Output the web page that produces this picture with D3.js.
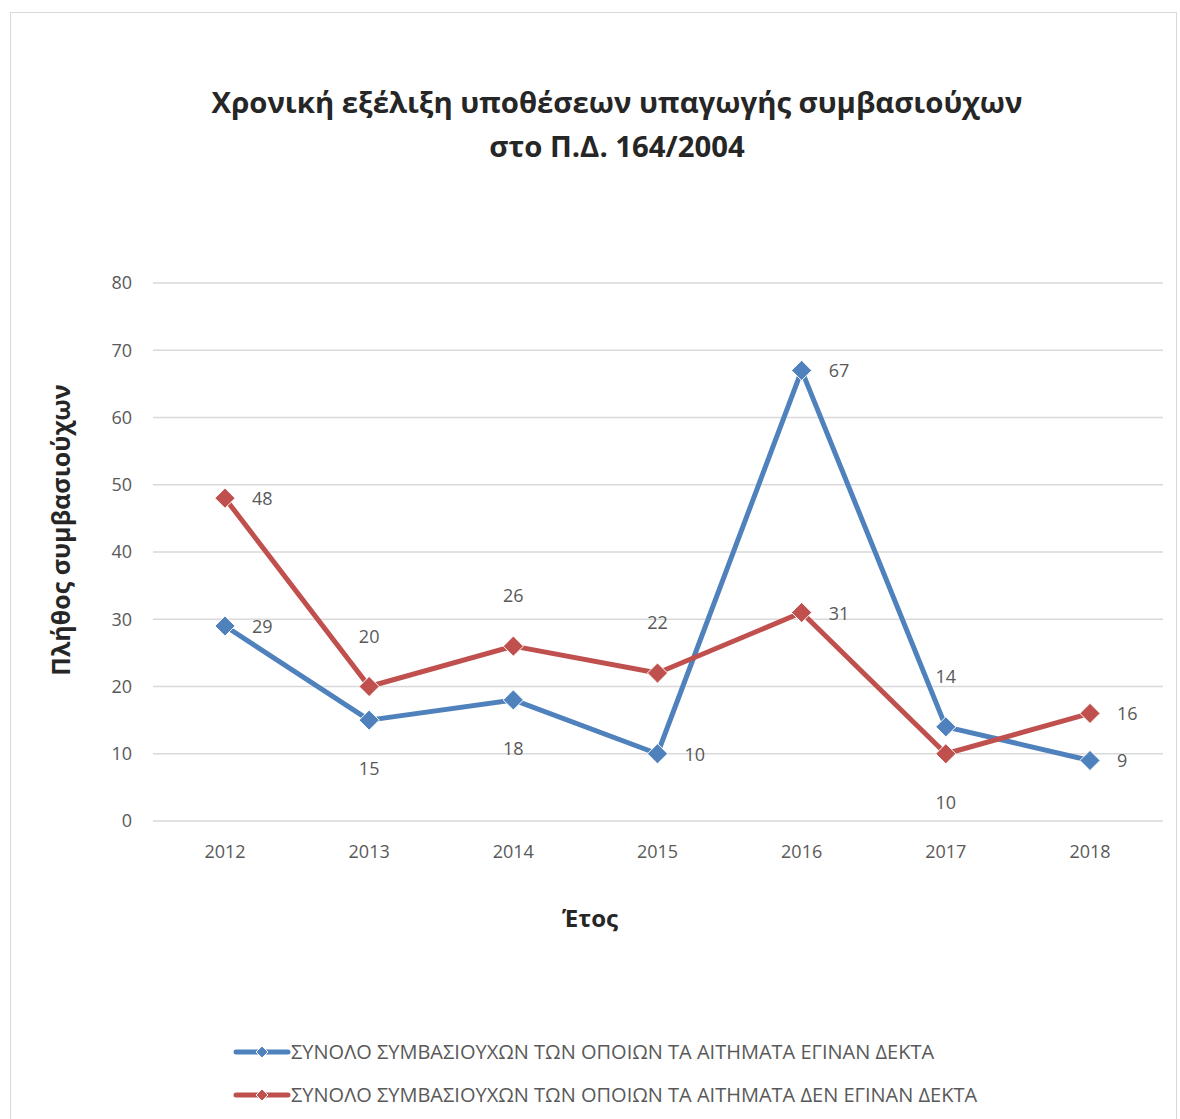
<!DOCTYPE html>
<html>
  <head>
    <meta charset="utf-8">
    <title>Χρονική εξέλιξη</title>
    <script src="https://d3js.org/d3.v7.min.js"></script>
    <style>
      body { margin: 0; background: #fff; }
      text { font-family: "Open Sans", "Noto Sans", sans-serif; }
    </style>
  </head>
  <body>
    <script>
      var years = ["2012", "2013", "2014", "2015", "2016", "2017", "2018"];
      var accepted = [29, 15, 18, 10, 67, 14, 9];
      var rejected = [48, 20, 26, 22, 31, 10, 16];
      var yTicks = [0, 10, 20, 30, 40, 50, 60, 70, 80];
      var seriesNames = [
        "ΣΥΝΟΛΟ ΣΥΜΒΑΣΙΟΥΧΩΝ ΤΩΝ ΟΠΟΙΩΝ ΤΑ ΑΙΤΗΜΑΤΑ ΕΓΙΝΑΝ ΔΕΚΤΑ",
        "ΣΥΝΟΛΟ ΣΥΜΒΑΣΙΟΥΧΩΝ ΤΩΝ ΟΠΟΙΩΝ ΤΑ ΑΙΤΗΜΑΤΑ ΔΕΝ ΕΓΙΝΑΝ ΔΕΚΤΑ"
      ];
      // label placement per point: r = right, a = above, b = below
      var acceptedPos = ["r", "b", "b", "r", "r", "a", "r"];
      var rejectedPos = ["r", "a", "a", "a", "r", "b", "r"];

      var width = 1180, height = 1119;
      var colors = ["#4f81bd", "#c0504d"];

      var svg = d3.select("body").append("svg")
        .attr("width", width)
        .attr("height", height);

      svg.append("rect")
        .attr("x", 10.5).attr("y", 12.5)
        .attr("width", 1166).attr("height", 1120)
        .attr("fill", "#fff")
        .attr("stroke", "#d9d9d9");

      var x = d3.scalePoint().domain(years).range([225, 1090]);
      var y = d3.scaleLinear().domain([0, 80]).range([821, 283]);

      // title
      var title = svg.append("text")
        .attr("text-anchor", "middle")
        .attr("font-size", 29.3)
        .attr("font-weight", "bold")
        .attr("fill", "#262626");
      title.append("tspan").attr("x", 617).attr("y", 113)
        .text("Χρονική εξέλιξη υποθέσεων υπαγωγής συμβασιούχων");
      title.append("tspan").attr("x", 617).attr("y", 157)
        .text("στο Π.Δ. 164/2004");

      // gridlines + y labels
      svg.selectAll(".grid")
        .data(yTicks)
        .enter().append("line")
          .attr("x1", 153).attr("x2", 1163)
          .attr("y1", function(d) { return y(d); })
          .attr("y2", function(d) { return y(d); })
          .attr("stroke", "#d9d9d9")
          .attr("stroke-width", 1.5);

      svg.selectAll(".ylab")
        .data(yTicks)
        .enter().append("text")
          .attr("x", 132)
          .attr("y", function(d) { return y(d); })
          .attr("dy", "0.35em")
          .attr("text-anchor", "end")
          .attr("font-size", 18)
          .attr("fill", "#595959")
          .text(function(d) { return d; });

      svg.selectAll(".xlab")
        .data(years)
        .enter().append("text")
          .attr("x", function(d) { return x(d); })
          .attr("y", 858)
          .attr("text-anchor", "middle")
          .attr("font-size", 18)
          .attr("fill", "#595959")
          .text(function(d) { return d; });

      // axis titles
      svg.append("text")
        .attr("x", 590).attr("y", 927)
        .attr("text-anchor", "middle")
        .attr("font-size", 24)
        .attr("font-weight", "bold")
        .attr("fill", "#262626")
        .text("Έτος");

      svg.append("text")
        .attr("transform", "translate(70,530) rotate(-90)")
        .attr("text-anchor", "middle")
        .attr("font-size", 25)
        .attr("font-weight", "bold")
        .attr("fill", "#262626")
        .text("Πλήθος συμβασιούχων");

      var line = d3.line()
        .x(function(d, i) { return x(years[i]); })
        .y(function(d) { return y(d); });

      var diamond = d3.symbol().type(d3.symbolDiamond2).size(260);

      function drawSeries(values, color, pos) {
        svg.append("path")
          .datum(values)
          .attr("d", line)
          .attr("fill", "none")
          .attr("stroke", color)
          .attr("stroke-width", 5)
          .attr("stroke-linejoin", "round");

        svg.selectAll(null)
          .data(values)
          .enter().append("path")
            .attr("d", diamond)
            .attr("transform", function(d, i) {
              return "translate(" + x(years[i]) + "," + y(d) + ")";
            })
            .attr("fill", color)
            .attr("stroke", "#fff")
            .attr("stroke-width", 1);

        svg.selectAll(null)
          .data(values)
          .enter().append("text")
            .attr("x", function(d, i) {
              return pos[i] == "r" ? x(years[i]) + 27 : x(years[i]);
            })
            .attr("y", function(d, i) {
              if (pos[i] == "a") return y(d) - 44;
              if (pos[i] == "b") return y(d) + 55;
              return y(d) + 7;
            })
            .attr("text-anchor", function(d, i) { return pos[i] == "r" ? "start" : "middle"; })
            .attr("font-size", 18)
            .attr("fill", "#595959")
            .text(function(d) { return d; });
      }

      drawSeries(accepted, colors[0], acceptedPos);
      drawSeries(rejected, colors[1], rejectedPos);

      // legend
      var legendY = [1052, 1095];
      seriesNames.forEach(function(name, i) {
        var g = svg.append("g");
        g.append("line")
          .attr("x1", 236).attr("x2", 288)
          .attr("y1", legendY[i]).attr("y2", legendY[i])
          .attr("stroke", colors[i])
          .attr("stroke-width", 5)
          .attr("stroke-linecap", "round");
        g.append("path")
          .attr("d", d3.symbol().type(d3.symbolDiamond2).size(90))
          .attr("transform", "translate(262," + legendY[i] + ")")
          .attr("fill", colors[i])
          .attr("stroke", "#fff")
          .attr("stroke-width", 1);
        g.append("text")
          .attr("x", 291).attr("y", legendY[i])
          .attr("dy", "0.35em")
          .attr("font-size", 20)
          .attr("fill", "#595959")
          .text(name);
      });
    </script>
  </body>
</html>
